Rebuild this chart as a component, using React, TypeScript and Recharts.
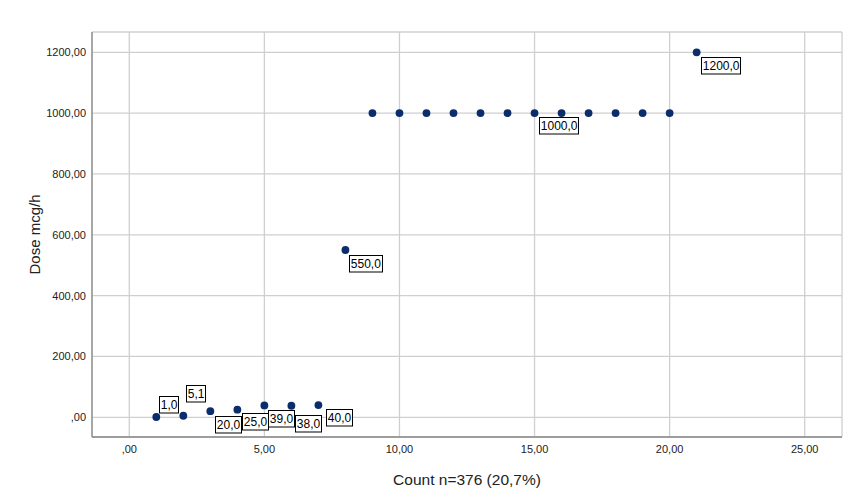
import { ScatterChart, Scatter, XAxis, YAxis, CartesianGrid } from "recharts"

// count on x, dose on y
const counts = [1, 2, 3, 4, 5, 6, 7, 8, 9, 10, 11, 12, 13, 14, 15, 16, 17, 18, 19, 20, 21]
const doses = [1.0, 5.1, 20, 25, 39, 38, 40, 550, 1000, 1000, 1000, 1000, 1000, 1000, 1000, 1000, 1000, 1000, 1000, 1000, 1200]

const xTicks = [0, 5, 10, 15, 20, 25]
const yTicks = [0, 200, 400, 600, 800, 1000, 1200]

const points = counts.map((c, i) => ({ count: c, dose: doses[i] }))

// where each value box sits relative to its dot (only labelled points)
const labelOffsets: Record<number, [number, number]> = {
    1: [3, -21],
    2: [2.5, -31],
    3: [4.5, 5],
    4: [4.5, 3.5],
    5: [4, 4.5],
    6: [4, 9.5],
    7: [7.5, 4],
    8: [4, 5.5],
    16: [-23, 4],
    21: [4, 4.5],
}

const FONT = "'Liberation Sans', Arial, sans-serif"
const DOT = "#0c2d6c"

const fmtAxis = (v: number) => (v === 0 ? ",00" : v.toFixed(2).replace(".", ","))

const textWidth = (s: string, fs: number) => {
    let w = 0
    for (const ch of s) w += ch === "," ? 0.278 : 0.556
    return w * fs
}

const Dot = (props: any) => {
    const { cx, cy, payload } = props
    const off = labelOffsets[payload.count]
    let box = null
    if (off) {
        const txt = payload.dose.toFixed(1).replace(".", ",")
        const fs = 12
        const pad = 1.3
        const w = Math.round(textWidth(txt, fs) + pad * 2)
        const h = 16.5
        const bx = Math.round(cx + off[0]) + 0.5
        const by = Math.round(cy + off[1]) + 0.5
        box = (
            <g>
                <rect x={bx} y={by} width={w} height={h} fill="#fff" stroke="#000" strokeWidth={1} />
                <text x={bx + pad} y={by + h / 2 + 0.5} fontSize={fs} fontFamily={FONT} fill="#000" dominantBaseline="central">
                    {txt}
                </text>
            </g>
        )
    }
    return (
        <g>
            <circle cx={cx} cy={cy} r={3.9} fill={DOT} />
            {box}
        </g>
    )
}

export default function App() {
    return (
        <div style={{ position: "absolute", left: 0, top: 0, width: 851, height: 501, background: "#fff" }}>
            <ScatterChart width={851} height={501} margin={{ top: 32, right: 9, left: 0, bottom: 0 }}>
                <CartesianGrid stroke="#cfcfcf" strokeWidth={1.3} />
                <XAxis
                    type="number"
                    dataKey="count"
                    domain={[-1.38, 26.38]}
                    ticks={xTicks}
                    tickFormatter={fmtAxis}
                    height={64}
                    tickLine={false}
                    axisLine={{ stroke: "#888", strokeWidth: 1.3 }}
                    tick={{ fill: "#222", fontSize: 11, fontFamily: FONT }}
                    tickMargin={2}
                    label={{
                        content: (p: any) => {
                            const vb = p.viewBox
                            return (
                                <text x={vb.x + vb.width / 2} y={vb.y + 42} textAnchor="middle" dominantBaseline="central" fontSize={15.5} fontFamily={FONT} fill="#222">
                                    Count n=376 (20,7%)
                                </text>
                            )
                        },
                    }}
                />
                <YAxis
                    type="number"
                    dataKey="dose"
                    domain={[-64.8, 1266.7]}
                    ticks={yTicks}
                    tickFormatter={fmtAxis}
                    width={92}
                    tickLine={false}
                    axisLine={{ stroke: "#888", strokeWidth: 1.3 }}
                    tick={{ fill: "#222", fontSize: 11, fontFamily: FONT }}
                    tickMargin={0}
                    label={{
                        content: (p: any) => {
                            const vb = p.viewBox
                            const cy = vb.y + vb.height / 2
                            return (
                                <text x={34} y={cy} transform={`rotate(-90, 34, ${cy})`} textAnchor="middle" dominantBaseline="central" fontSize={15} fontFamily={FONT} fill="#222">
                                    Dose mcg/h
                                </text>
                            )
                        },
                    }}
                />
                <Scatter data={points} shape={Dot} isAnimationActive={false} />
            </ScatterChart>
        </div>
    )
}
